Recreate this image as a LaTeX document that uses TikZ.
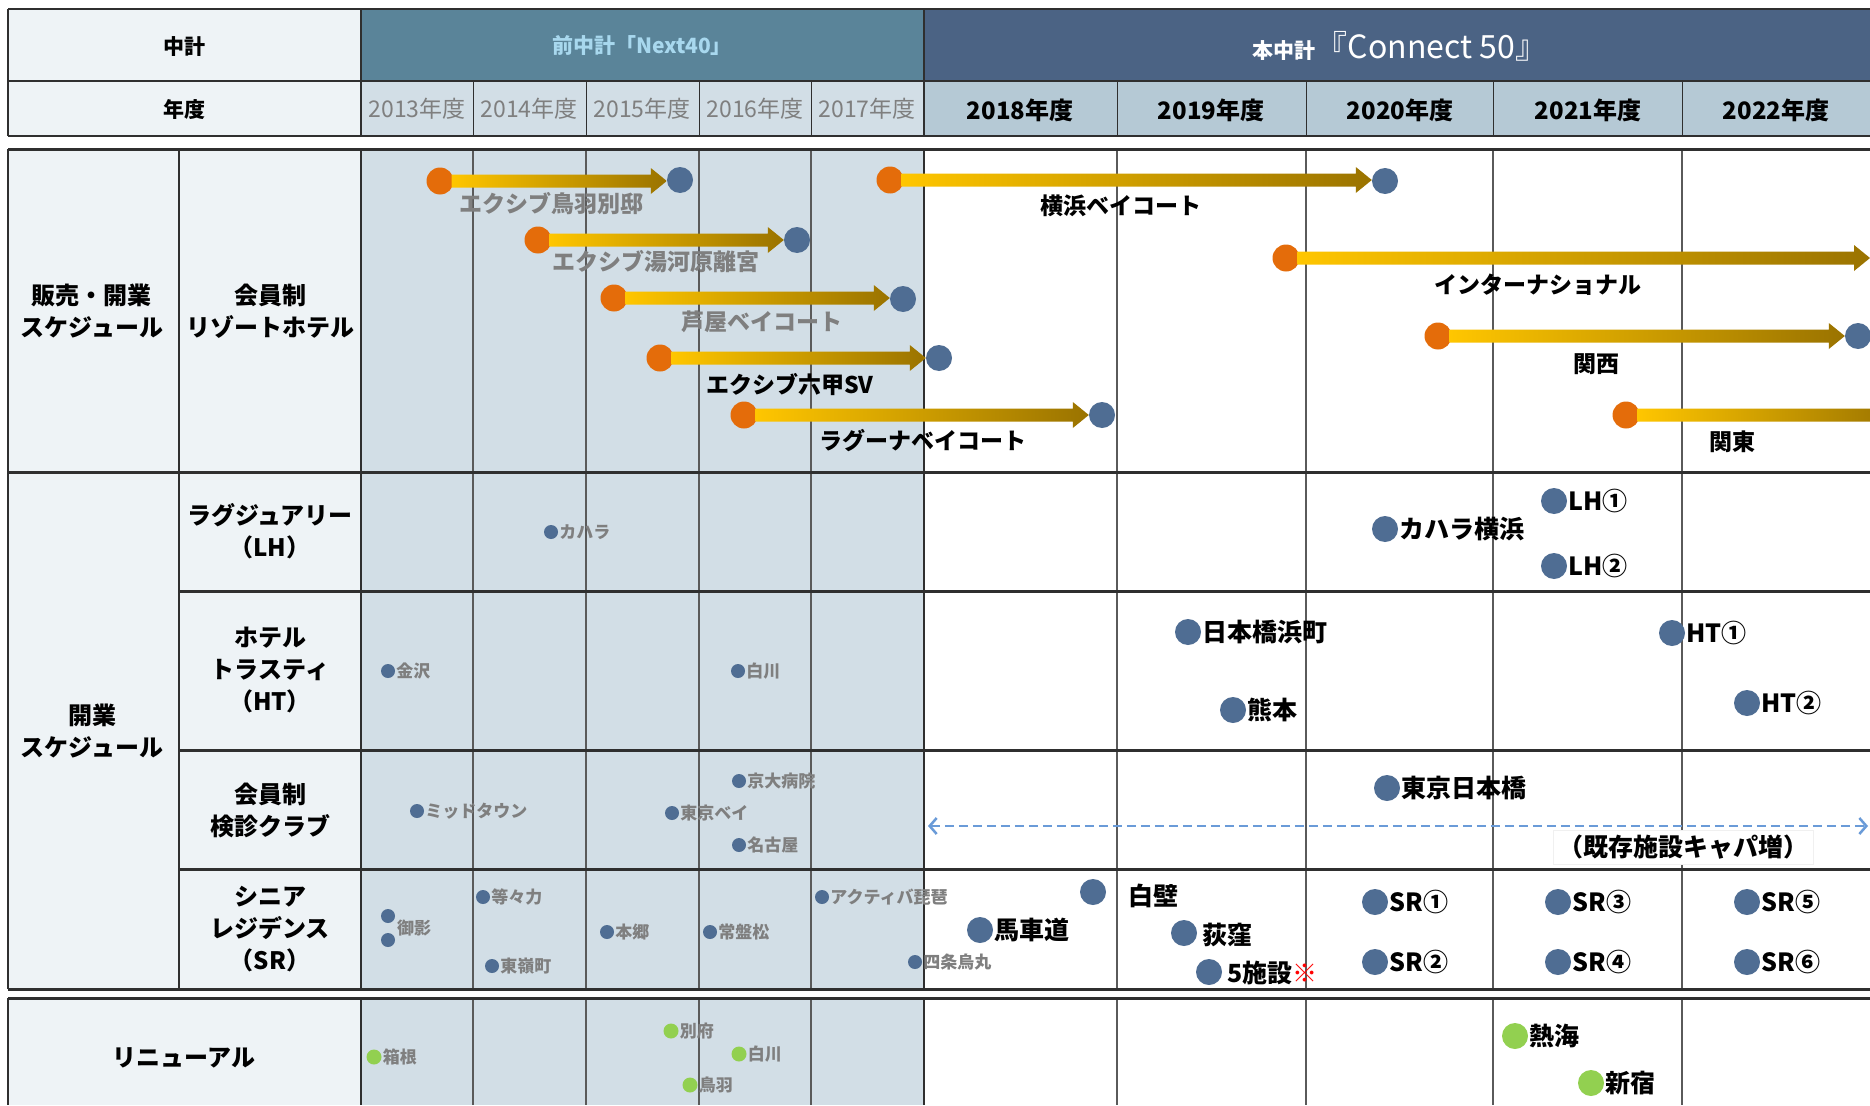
\documentclass[tikz,border=0pt]{standalone}
\usepackage{fontspec}
\setmainfont{Noto Sans CJK JP}
\usetikzlibrary{calc,arrows.meta}

\definecolor{cellpale}{HTML}{EEF3F6}
\definecolor{pastfill}{HTML}{D2DEE6}
\definecolor{nowfill}{HTML}{B5C9D5}
\definecolor{nextforty}{HTML}{5A8499}
\definecolor{nexttext}{HTML}{A8D8EE}
\definecolor{connect}{HTML}{4B6384}
\definecolor{rule}{HTML}{2F2F2F}
\definecolor{gridgray}{HTML}{5A5A5A}
\definecolor{pastgray}{HTML}{7F7F7F}
\definecolor{orangedot}{HTML}{E46C0A}
\definecolor{bluedot}{HTML}{4F6D93}
\definecolor{greendot}{HTML}{92D050}
\definecolor{goldA}{HTML}{FFC600}
\definecolor{goldB}{HTML}{9A7300}
\definecolor{dashblue}{HTML}{6A9BD8}

\tikzset{
  hdr/.style={font=\bfseries\fontsize{21}{24}\selectfont, inner sep=0},
  yearold/.style={font=\fontsize{23}{26}\selectfont, text=pastgray, inner sep=0},
  yearnew/.style={font=\bfseries\fontsize{24}{27}\selectfont, inner sep=0},
  rowlbl/.style={align=center, font=\bfseries\fontsize{24}{32}\selectfont, inner sep=0},
  odot/.style={circle, fill=orangedot, minimum size=27pt, inner sep=0},
  bdot/.style={circle, fill=bluedot, minimum size=26pt, inner sep=0},
  sdot/.style={circle, fill=bluedot, minimum size=14pt, inner sep=0},
  gdot/.style={circle, fill=greendot, minimum size=26pt, inner sep=0},
  sgdot/.style={circle, fill=greendot, minimum size=15pt, inner sep=0},
  tag/.style={font=\bfseries\fontsize{23}{26}\selectfont, inner sep=0},
  gtag/.style={tag, text=pastgray},
  stag/.style={font=\bfseries\fontsize{17}{20}\selectfont, text=pastgray, inner sep=1pt},
  btag/.style={font=\bfseries\fontsize{25}{28}\selectfont, inner sep=1pt},
  thinline/.style={gridgray, line width=1.3pt},
  thickline/.style={rule, line width=3pt}
}

% gold bar with head, from an orange dot to a blue dot
\newcommand{\goldbar}[2]{%
  \coordinate (tip) at (#1.east -| #2);
  \shade[left color=goldA, right color=goldB]
    ($(#1.east)+(-2,-6.5)$) -- ($(tip)+(-16,-6.5)$) -- ($(tip)+(-16,-13)$) -- (tip)
    -- ($(tip)+(-16,13)$) -- ($(tip)+(-16,6.5)$) -- ($(#1.east)+(-2,6.5)$) -- cycle;}

\begin{document}
\begin{tikzpicture}[x=1pt, y=-1pt]
  \useasboundingbox[fill=white] (0,0) rectangle (1870,1105);

  % header
  \fill[cellpale] (8,9) rectangle (361,136);
  \fill[nextforty] (361,9) rectangle (924,81);
  \fill[connect] (924,9) rectangle (1870,81);
  \fill[pastfill] (361,81) rectangle (924,136);
  \fill[nowfill] (924,81) rectangle (1870,136);
  \draw[rule, line width=2.5pt] (8,9) -- (1870,9);
  \draw[rule, line width=2pt] (8,81) -- (1870,81);
  \draw[rule, line width=2.5pt] (8,136) -- (1870,136);
  \draw[rule, line width=2.5pt] (8,9) -- (8,136);
  \draw[rule, line width=1.5pt] (361,9) -- (361,136);
  \draw[rule, line width=1.5pt] (924,9) -- (924,136);
  \draw[rule, line width=1pt] (473,81) -- (473,136) (586,81) -- (586,136)
    (699,81) -- (699,136) (811,81) -- (811,136) (1117,81) -- (1117,136)
    (1306,81) -- (1306,136) (1493,81) -- (1493,136) (1682,81) -- (1682,136);

  \node[hdr] (plan) at (184,47) {中計};
  \node[hdr, text=nexttext] (next) at (642,46) {前中計「Next40」};
  \node[hdr, text=white] (conn) at (1400,46) {本中計{\mdseries\fontsize{32}{34}\selectfont『Connect 50』}};
  \node[hdr] (fy) at (184,110) {年度};
  \node[yearold] (y13) at (417,109) {2013年度};
  \node[yearold] (y14) at (529,109) {2014年度};
  \node[yearold] (y15) at (642,109) {2015年度};
  \node[yearold] (y16) at (755,109) {2016年度};
  \node[yearold] (y17) at (867,109) {2017年度};
  \node[yearnew] (y18) at (1020,110) {2018年度};
  \node[yearnew] (y19) at (1211,110) {2019年度};
  \node[yearnew] (y20) at (1400,110) {2020年度};
  \node[yearnew] (y21) at (1588,110) {2021年度};
  \node[yearnew] (y22) at (1776,110) {2022年度};

  % body cells
  \fill[cellpale] (8,149) rectangle (361,989);
  \fill[pastfill] (361,149) rectangle (924,989);
  \fill[cellpale] (8,998) rectangle (361,1105);
  \fill[pastfill] (361,998) rectangle (924,1105);

  \draw[thinline] (473,149) -- (473,989) (586,149) -- (586,989) (699,149) -- (699,989)
    (811,149) -- (811,989) (1117,149) -- (1117,989) (1306,149) -- (1306,989)
    (1493,149) -- (1493,989) (1682,149) -- (1682,989);
  \draw[thinline] (473,998) -- (473,1105) (586,998) -- (586,1105) (699,998) -- (699,1105)
    (811,998) -- (811,1105) (1117,998) -- (1117,1105) (1306,998) -- (1306,1105)
    (1493,998) -- (1493,1105) (1682,998) -- (1682,1105);
  \draw[rule, line width=1.8pt] (924,149) -- (924,989) (924,998) -- (924,1105);
  \draw[rule, line width=2pt] (179,149) -- (179,989) (361,149) -- (361,989) (361,998) -- (361,1105);
  \draw[rule, line width=2.5pt] (8,149) -- (8,989) (8,998) -- (8,1105);
  \draw[thickline] (8,149) -- (1870,149);
  \draw[thickline] (8,472) -- (1870,472);
  \draw[thickline] (179,591) -- (1870,591);
  \draw[thickline] (179,750) -- (1870,750);
  \draw[thickline] (179,869) -- (1870,869);
  \draw[thickline] (8,989) -- (1870,989);
  \draw[thickline] (8,998) -- (1870,998);

  % row titles
  \node[rowlbl] (sales) at (92,311) {販売・開業\\スケジュール};
  \node[rowlbl] (resort) at (270,311) {会員制\\リゾートホテル};
  \node[rowlbl] (open) at (92,731) {開業\\スケジュール};
  \node[rowlbl] (lux) at (270,531) {ラグジュアリー\\（LH）};
  \node[rowlbl] (trusty) at (270,670) {ホテル\\トラスティ\\（HT）};
  \node[rowlbl] (club) at (270,810) {会員制\\検診クラブ};
  \node[rowlbl] (senior) at (270,929) {シニア\\レジデンス\\（SR）};
  \node[rowlbl] (renew) at (184,1058) {リニューアル};

  % sales schedule
  \node[odot] (tobaA) at (440,181) {};
  \node[bdot] (tobaB) at (680,180) {};
  \node[odot] (yugaA) at (538,240) {};
  \node[bdot] (yugaB) at (797,240) {};
  \node[odot] (ashiA) at (614,298) {};
  \node[bdot] (ashiB) at (903,299) {};
  \node[odot] (rokkA) at (660,358) {};
  \node[bdot] (rokkB) at (939,358) {};
  \node[odot] (laguA) at (744,415) {};
  \node[bdot] (laguB) at (1102,415) {};
  \node[odot] (yokoA) at (890,180) {};
  \node[bdot] (yokoB) at (1385,181) {};
  \node[odot] (intlA) at (1286,258) {};
  \coordinate (intlB) at (1870,258);
  \node[odot] (kansA) at (1438,336) {};
  \node[bdot] (kansB) at (1858,336) {};
  \node[odot] (kantA) at (1626,415) {};
  \coordinate (kantB) at (1900,415);

  \goldbar{tobaA}{tobaB.west}
  \goldbar{yugaA}{yugaB.west}
  \goldbar{ashiA}{ashiB.west}
  \goldbar{rokkA}{rokkB.west}
  \goldbar{laguA}{laguB.west}
  \goldbar{yokoA}{yokoB.west}
  \goldbar{intlA}{intlB}
  \goldbar{kansA}{kansB.west}
  \goldbar{kantA}{kantB}

  \node[gtag] (tobaL) at (551,204) {エクシブ鳥羽別邸};
  \node[gtag] (yugaL) at (656,262) {エクシブ湯河原離宮};
  \node[gtag] (ashiL) at (762,322) {芦屋ベイコート};
  \node[tag] (rokkL) at (790,385) {エクシブ六甲SV};
  \node[tag] (laguL) at (923,441) {ラグーナベイコート};
  \node[tag] (yokoL) at (1121,206) {横浜ベイコート};
  \node[tag] (intlL) at (1538,285) {インターナショナル};
  \node[tag] (kansL) at (1596,364) {関西};
  \node[tag] (kantL) at (1732,442) {関東};

  % luxury
  \node[sdot, label={[stag]right:カハラ}] (kahara) at (551,532) {};
  \node[bdot, label={[btag]right:カハラ横浜}] (kaharaY) at (1385,529) {};
  \node[bdot, label={[btag]right:LH①}] (lhA) at (1554,501) {};
  \node[bdot, label={[btag]right:LH②}] (lhB) at (1554,566) {};

  % hotel trusty
  \node[sdot, label={[stag]right:金沢}] (kanaz) at (388,671) {};
  \node[sdot, label={[stag]right:白川}] (shira) at (738,671) {};
  \node[bdot, label={[btag]right:日本橋浜町}] (hama) at (1188,632) {};
  \node[bdot, label={[btag]right:熊本}] (kuma) at (1233,710) {};
  \node[bdot, label={[btag]right:HT①}] (htA) at (1672,633) {};
  \node[bdot, label={[btag]right:HT②}] (htB) at (1747,703) {};

  % medical club
  \node[sdot, label={[stag]right:京大病院}] (kyodai) at (739,781) {};
  \node[sdot, label={[stag]right:ミッドタウン}] (midt) at (417,811) {};
  \node[sdot, label={[stag]right:東京ベイ}] (tbay) at (672,813) {};
  \node[sdot, label={[stag]right:名古屋}] (nagoya) at (739,845) {};
  \node[bdot, label={[btag]right:東京日本橋}] (tnihon) at (1387,788) {};
  \coordinate (capL) at (928,826);
  \coordinate (capR) at (1868,826);
  \draw[dashblue, line width=2.5pt, dash pattern=on 9pt off 5pt,
    {Straight Barb[length=7pt,width=16pt]}-{Straight Barb[length=7pt,width=16pt]}] (capL) -- (capR);
  \node[btag, fill=white, draw=black!6, inner sep=5pt] (capT) at (1683,847) {（既存施設キャパ増）};

  % senior residence
  \node[sdot, label={[stag]right:等々力}] (todo) at (483,897) {};
  \node[sdot] (mikaA) at (388,916) {};
  \node[sdot] (mikaB) at (388,940) {};
  \node[stag, anchor=west] (mikaL) at (396,928) {御影};
  \node[sdot, label={[stag]right:本郷}] (hongo) at (607,932) {};
  \node[sdot, label={[stag]right:常盤松}] (toki) at (710,932) {};
  \node[sdot, label={[stag]right:東嶺町}] (higa) at (492,966) {};
  \node[sdot, label={[stag]right:アクティバ琵琶}] (biwa) at (822,897) {};
  \node[sdot, label={[stag]right:四条烏丸}] (shijo) at (915,962) {};
  \node[bdot] (shiraK) at (1093,892) {};
  \node[btag, anchor=west] (shiraL) at (1127,896) {白壁};
  \node[bdot, label={[btag]right:馬車道}] (basha) at (980,930) {};
  \node[bdot] (ogi) at (1184,933) {};
  \node[btag, anchor=west] (ogiL) at (1201,935) {荻窪};
  \node[bdot] (five) at (1209,972) {};
  \node[btag, anchor=west] (fiveL) at (1226,973) {5施設\textcolor{red}{※}};
  \node[bdot, label={[btag]right:SR①}] (srA) at (1375,902) {};
  \node[bdot, label={[btag]right:SR②}] (srB) at (1375,962) {};
  \node[bdot, label={[btag]right:SR③}] (srC) at (1558,902) {};
  \node[bdot, label={[btag]right:SR④}] (srD) at (1558,962) {};
  \node[bdot, label={[btag]right:SR⑤}] (srE) at (1747,902) {};
  \node[bdot, label={[btag]right:SR⑥}] (srF) at (1747,962) {};

  % renewal
  \node[sgdot, label={[stag]right:箱根}] (hakone) at (374,1057) {};
  \node[sgdot, label={[stag]right:別府}] (beppu) at (671,1031) {};
  \node[sgdot, label={[stag]right:白川}] (shiraR) at (739,1054) {};
  \node[sgdot, label={[stag]right:鳥羽}] (toba) at (690,1085) {};
  \node[gdot, label={[btag]right:熱海}] (atami) at (1515,1036) {};
  \node[gdot, label={[btag]right:新宿}] (shinj) at (1591,1083) {};
\end{tikzpicture}
\end{document}
